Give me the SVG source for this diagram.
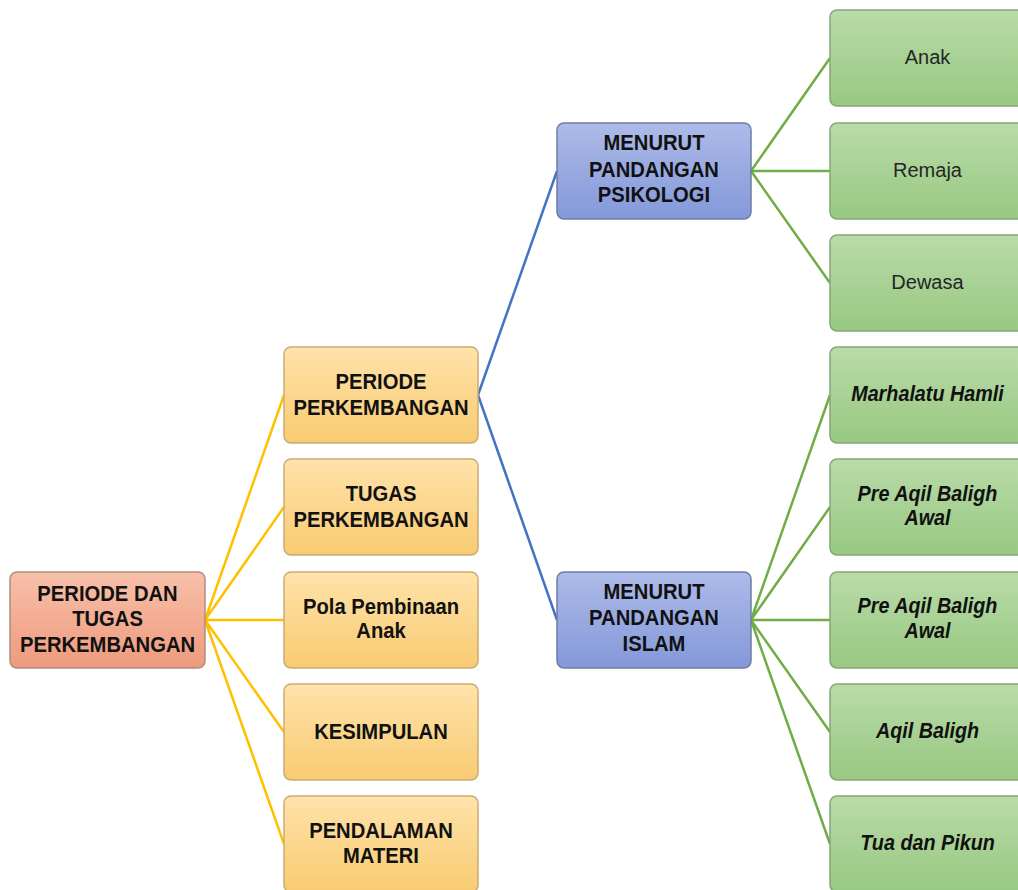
<svg xmlns="http://www.w3.org/2000/svg" width="1018" height="890" viewBox="0 0 1018 890">
<style>
.t{font-family:"Liberation Sans",Arial,sans-serif;font-size:21.5px;text-anchor:middle;fill:#111;font-weight:bold}
.g{font-family:"Liberation Sans",Arial,sans-serif;font-size:20px;text-anchor:middle;fill:#262626}
.gi{font-family:"Liberation Sans",Arial,sans-serif;font-size:21.5px;text-anchor:middle;fill:#111;font-weight:bold;font-style:italic}
.root{fill:url(#gr);stroke:#b08c80;stroke-width:1.5}
.or{fill:url(#go);stroke:#c9ad74;stroke-width:1.5}
.bl{fill:url(#gb);stroke:#6f7ca3;stroke-width:1.5}
.gr{fill:url(#gg);stroke:#86a57a;stroke-width:1.5}
.co{stroke:#ffc000;stroke-width:2.5;fill:none}
.cb{stroke:#4472c4;stroke-width:2.5;fill:none}
.cg{stroke:#70ad47;stroke-width:2.5;fill:none}
</style>
<defs>
<linearGradient id="gr" x1="0" y1="0" x2="0" y2="1"><stop offset="0" stop-color="#f7c0aa"/><stop offset="1" stop-color="#ef9a7c"/></linearGradient>
<linearGradient id="go" x1="0" y1="0" x2="0" y2="1"><stop offset="0" stop-color="#fee3aa"/><stop offset="1" stop-color="#f9ca72"/></linearGradient>
<linearGradient id="gb" x1="0" y1="0" x2="0" y2="1"><stop offset="0" stop-color="#adbbe8"/><stop offset="1" stop-color="#8498da"/></linearGradient>
<linearGradient id="gg" x1="0" y1="0" x2="0" y2="1"><stop offset="0" stop-color="#b9dba8"/><stop offset="1" stop-color="#98c882"/></linearGradient>
</defs>
<rect width="1018" height="890" fill="#fff"/>
<g id="connectors">
<path class="co" d="M205 620L284 395M205 620L284 507M205 620L284 620M205 620L284 732M205 620L284 844"/>
<path class="cb" d="M478 395L557 171M478 395L557 620"/>
<path class="cg" d="M751 171L830 58M751 171L830 171M751 171L830 283"/>
<path class="cg" d="M751 620L830 395M751 620L830 507M751 620L830 620M751 620L830 732M751 620L830 844"/>
</g>
<g id="root"><rect class="root" x="10" y="572" width="195" height="96" rx="7"/>
<g transform="translate(107.5 0) scale(0.94 1)"><text class="t" x="0" y="601">PERIODE DAN</text><text class="t" x="0" y="626.5">TUGAS</text><text class="t" x="0" y="652">PERKEMBANGAN</text></g></g>
<g id="periode"><rect class="or" x="284" y="347" width="194" height="96" rx="7"/>
<g transform="translate(381 0) scale(0.94 1)"><text class="t" x="0" y="389.5">PERIODE</text><text class="t" x="0" y="415.5">PERKEMBANGAN</text></g></g>
<g id="tugas"><rect class="or" x="284" y="459" width="194" height="96" rx="7"/>
<g transform="translate(381 0) scale(0.94 1)"><text class="t" x="0" y="501.5">TUGAS</text><text class="t" x="0" y="527">PERKEMBANGAN</text></g></g>
<g id="pola"><rect class="or" x="284" y="572" width="194" height="96" rx="7"/>
<g transform="translate(381 0) scale(0.94 1)"><text class="t" x="0" y="614.5">Pola Pembinaan</text><text class="t" x="0" y="638.5">Anak</text></g></g>
<g id="kesimpulan"><rect class="or" x="284" y="684" width="194" height="96" rx="7"/>
<g transform="translate(381 0) scale(0.94 1)"><text class="t" x="0" y="739">KESIMPULAN</text></g></g>
<g id="pendalaman"><rect class="or" x="284" y="796" width="194" height="96" rx="7"/>
<g transform="translate(381 0) scale(0.94 1)"><text class="t" x="0" y="838">PENDALAMAN</text><text class="t" x="0" y="863">MATERI</text></g></g>
<g id="psikologi"><rect class="bl" x="557" y="123" width="194" height="96" rx="7"/>
<g transform="translate(654 0) scale(0.94 1)"><text class="t" x="0" y="150.5">MENURUT</text><text class="t" x="0" y="177">PANDANGAN</text><text class="t" x="0" y="202.5">PSIKOLOGI</text></g></g>
<g id="islam"><rect class="bl" x="557" y="572" width="194" height="96" rx="7"/>
<g transform="translate(654 0) scale(0.94 1)"><text class="t" x="0" y="599.5">MENURUT</text><text class="t" x="0" y="625.5">PANDANGAN</text><text class="t" x="0" y="651.5">ISLAM</text></g></g>
<g id="anak"><rect class="gr" x="830" y="10" width="195" height="96" rx="7"/><text class="g" x="927.5" y="64">Anak</text></g>
<g id="remaja"><rect class="gr" x="830" y="123" width="195" height="96" rx="7"/><text class="g" x="927.5" y="177">Remaja</text></g>
<g id="dewasa"><rect class="gr" x="830" y="235" width="195" height="96" rx="7"/><text class="g" x="927.5" y="289">Dewasa</text></g>
<g id="marhalatu"><rect class="gr" x="830" y="347" width="195" height="96" rx="7"/><g transform="translate(927.5 0) scale(0.92 1)"><text class="gi" x="0" y="401.5">Marhalatu Hamli</text></g></g>
<g id="pre1"><rect class="gr" x="830" y="459" width="195" height="96" rx="7"/><g transform="translate(927.5 0) scale(0.92 1)"><text class="gi" x="0" y="501.5">Pre Aqil Baligh</text><text class="gi" x="0" y="525.5">Awal</text></g></g>
<g id="pre2"><rect class="gr" x="830" y="572" width="195" height="96" rx="7"/><g transform="translate(927.5 0) scale(0.92 1)"><text class="gi" x="0" y="613.5">Pre Aqil Baligh</text><text class="gi" x="0" y="638">Awal</text></g></g>
<g id="aqil"><rect class="gr" x="830" y="684" width="195" height="96" rx="7"/><g transform="translate(927.5 0) scale(0.92 1)"><text class="gi" x="0" y="738.5">Aqil Baligh</text></g></g>
<g id="tua"><rect class="gr" x="830" y="796" width="195" height="96" rx="7"/><g transform="translate(927.5 0) scale(0.92 1)"><text class="gi" x="0" y="850.5">Tua dan Pikun</text></g></g>
</svg>
